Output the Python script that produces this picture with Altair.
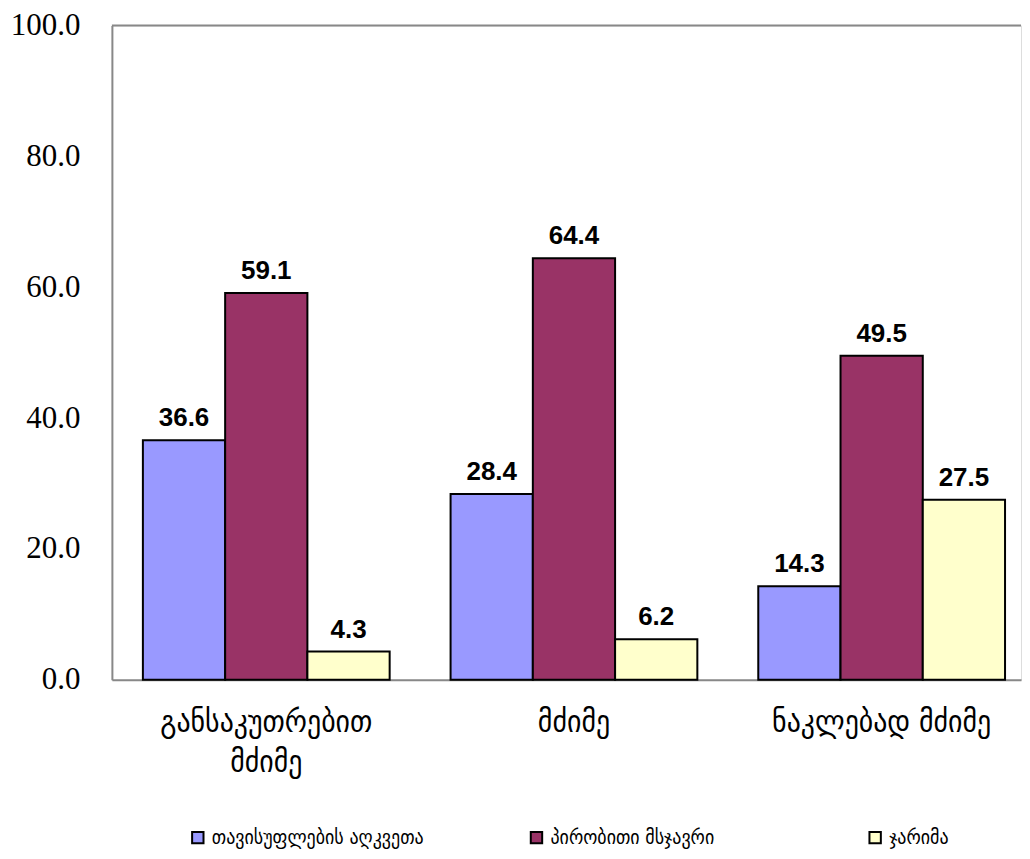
import altair as alt
import pandas as pd

categories = ["განსაკუთრებით\nმძიმე", "მძიმე", "ნაკლებად მძიმე"]
series = ["თავისუფლების აღკვეთა", "პირობითი მსჯავრი", "ჯარიმა"]
values_s1 = [36.6, 28.4, 14.3]
values_s2 = [59.1, 64.4, 49.5]
values_s3 = [4.3, 6.2, 27.5]
colors = ["#9999FF", "#993366", "#FFFFCC"]

rows = []
for ci, c in enumerate(categories):
    for si, (s, vals) in enumerate(zip(series, [values_s1, values_s2, values_s3])):
        rows.append({"cat": c, "series": s, "order": si, "value": vals[ci]})
df = pd.DataFrame(rows)

geo_font = "DejaVu Sans Condensed, DejaVu Sans"
num_font = "Liberation Serif"

x_enc = alt.X("cat:N", sort=categories, title=None,
              scale=alt.Scale(paddingInner=0.198, paddingOuter=0.0763, align=0.66),
              axis=alt.Axis(labelAngle=0, ticks=False, domainColor="#888888", domainWidth=2,
                            labelFont=geo_font, labelFontSize=31, labelColor="black",
                            labelPadding=28, labelLineHeight=40,
                            labelExpr="split(datum.label, '\\n')", labelLimit=400))
y_enc = alt.Y("value:Q", title=None,
              scale=alt.Scale(domain=[0, 100], nice=False),
              axis=alt.Axis(values=[0, 20, 40, 60, 80, 100], format=".1f", ticks=False, grid=False,
                            domainColor="#888888", domainWidth=2,
                            labelFont=num_font, labelFontSize=31, labelColor="black",
                            labelPadding=32))
xoff = alt.XOffset("series:N", sort=series)

base = alt.Chart(df)

bars = base.mark_bar(stroke="black", strokeWidth=2).encode(
    x=x_enc, y=y_enc, xOffset=xoff,
    color=alt.Color("series:N", sort=series, title=None,
                    scale=alt.Scale(domain=series, range=colors),
                    legend=alt.Legend(orient="none", legendX=76, legendY=803, direction="horizontal",
                                      columns=3, gridAlign="all", columnPadding=102,
                                      symbolType="square", symbolSize=130, symbolStrokeColor="black",
                                      symbolStrokeWidth=2, symbolOpacity=1,
                                      labelFont=geo_font, labelFontSize=20, labelColor="black",
                                      labelLimit=400, labelOffset=4)),
)

labels = base.mark_text(baseline="bottom", dy=-9, font="Arial", fontWeight="bold",
                        fontSize=26, color="black").encode(
    x=alt.X("cat:N", sort=categories), y="value:Q", xOffset=xoff,
    text=alt.Text("value:Q", format=".1f"),
)

top_line = alt.Chart(pd.DataFrame({"v": [100]})).mark_rule(color="#888888", strokeWidth=2).encode(
    y=alt.Y("v:Q")
)

chart = alt.layer(bars, labels, top_line).properties(
    width=910, height=655,
    padding={"left": 2, "top": 1, "right": 0, "bottom": 5},
).configure_view(stroke=None).configure(background="white")

chart.save("out.html", embed_options={"renderer": "svg", "actions": False})
